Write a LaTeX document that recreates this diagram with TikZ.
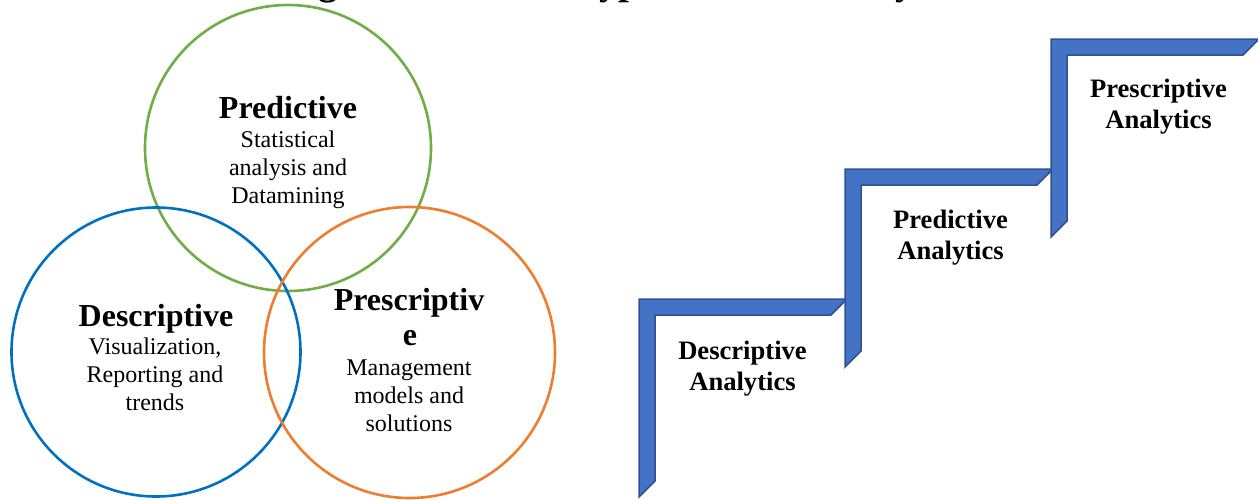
\documentclass[tikz,border=0pt]{standalone}
\usepackage{fontspec}
\setmainfont{Liberation Serif}
\definecolor{predgreen}{HTML}{70AD47}
\definecolor{descblue}{HTML}{0070C0}
\definecolor{prescorange}{HTML}{ED7D31}
\definecolor{stepfill}{HTML}{4472C4}
\definecolor{stepedge}{HTML}{2F528F}

\tikzset{
  pics/halfframe/.style={code={
    \path[halfframe] (0,0) -- (208,0) -- (192,16) -- (16,16) -- (16,182) -- (0,198) -- cycle;
  }}
}

\begin{document}
\begin{tikzpicture}[x=0.5pt,y=-0.5pt,
  ring/.style={line width=1.3pt},
  head/.style={font=\bfseries\fontsize{16}{17.5}\selectfont, anchor=base, inner sep=0pt},
  body/.style={font=\fontsize{12}{14}\selectfont, anchor=base, inner sep=0pt},
  stairlabel/.style={font=\bfseries\fontsize{13.3}{15.5}\selectfont, anchor=base, inner sep=0pt},
  halfframe/.style={fill=stepfill, draw=stepedge, line width=0.75pt, line join=miter}]
\useasboundingbox (0,0) rectangle (1258,499);

% caption line above the figure (only its descenders fall inside the page)
\node[font=\bfseries\fontsize{19.5}{22}\selectfont, anchor=base west, inner sep=0pt]
  (caption) at (283,-6) {Figure 1.1: Three types of Data Analytics};

% three overlapping circles
\draw[ring, predgreen]   (288,148) circle[radius=143];
\draw[ring, descblue]    (156,352) circle[radius=144.5];
\draw[ring, prescorange] (409.5,352.5) circle[radius=145.5];

% Predictive
\node[head] (predH)  at (288,118) {Predictive};
\node[body] (predA)  at (288,147) {Statistical};
\node[body] (predB)  at (288,175) {analysis and};
\node[body] (predC)  at (288,203) {Datamining};

% Descriptive
\node[head] (descH)  at (156,326) {Descriptive};
\node[body] (descA)  at (155,354) {Visualization,};
\node[body] (descB)  at (155,382) {Reporting and};
\node[body] (descC)  at (155,410) {trends};

% Prescriptive
\node[head] (presH)  at (409,310) {Prescriptiv};
\node[head] (presH2) at (410,345) {e};
\node[body] (presA)  at (409,375) {Management};
\node[body] (presB)  at (409,403) {models and};
\node[body] (presC)  at (409,431) {solutions};

% staircase of half frames
\pic at (639,299) {halfframe};
\pic at (845,169) {halfframe};
\pic at (1051,39) {halfframe};

% step labels
\node[stairlabel] (s1a) at (742.5,359) {Descriptive};
\node[stairlabel] (s1b) at (742.5,390) {Analytics};
\node[stairlabel] (s2a) at (950.5,228) {Predictive};
\node[stairlabel] (s2b) at (950.5,259) {Analytics};
\node[stairlabel] (s3a) at (1158.5,97) {Prescriptive};
\node[stairlabel] (s3b) at (1158.5,128) {Analytics};
\end{tikzpicture}
\end{document}
